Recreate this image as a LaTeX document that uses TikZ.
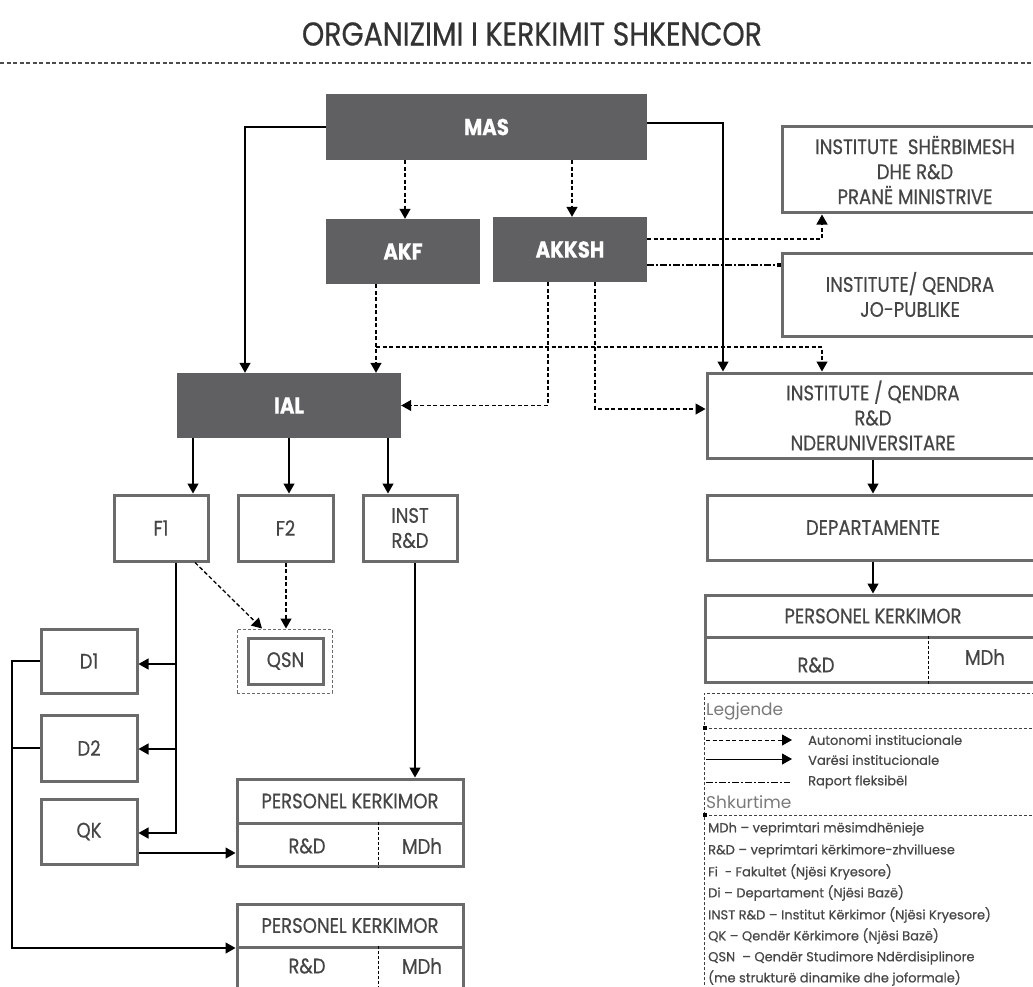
\documentclass[tikz,border=0pt]{standalone}
\usepackage{fontspec}
\setmainfont{Poppins}[FakeStretch=0.86, FakeBold=0.5]
\newfontfamily\legfont{Poppins}[FakeBold=0.6]
\newfontfamily\headfont{Poppins}
\usetikzlibrary{arrows.meta}
\definecolor{darkfill}{HTML}{606062}
\definecolor{boxline}{HTML}{6B6B6B}
\definecolor{txt}{HTML}{454545}
\definecolor{legtxt}{HTML}{474747}
\definecolor{leghead}{HTML}{7A7A7A}
\tikzset{
  wbox/.style={draw=boxline, line width=3pt, fill=white, text=txt,
    font=\fontsize{21}{25}\selectfont, align=center, inner sep=0pt},
  dbox/.style={fill=darkfill, text=white, font=\bfseries\fontsize{23}{25}\selectfont, inner sep=0pt},
  conn/.style={line width=1.3pt, black},
  tip/.style={-{Triangle[width=11pt,length=10pt]}},
  sarr/.style={conn, tip},
  darr/.style={conn, dash pattern=on 4pt off 2.5pt, tip},
  flexline/.style={conn, dash pattern=on 7pt off 2pt on 2pt off 2pt},
  divdash/.style={line width=1pt, black, dash pattern=on 3pt off 2pt},
  legdash/.style={line width=1pt, black!75, dash pattern=on 3pt off 2pt},
  pktext/.style={text=txt, font=\fontsize{21}{24}\selectfont, inner sep=0pt},
  legitem/.style={anchor=west, text=legtxt, font=\legfont\fontsize{13}{15}\selectfont, inner sep=0pt},
  leghd/.style={anchor=west, text=leghead, font=\headfont\fontsize{17}{19}\selectfont, inner sep=0pt},
}
\begin{document}
\begin{tikzpicture}[x=1pt,y=-1pt]
\useasboundingbox (0,0) rectangle (1033,987);
\clip (0,0) rectangle (1033,987);

% title
\node[text=black!80, font=\fontsize{33}{35}\selectfont, inner sep=0pt] (title) at (532,34) {ORGANIZIMI I KERKIMIT SHKENCOR};
\draw[line width=1.5pt, black!70, dash pattern=on 4pt off 2.5pt] (0,63) -- (1033,63);

% dark boxes
\node[dbox, minimum width=321pt, minimum height=66pt] (MAS) at (486.5,127) {MAS};
\node[dbox, minimum width=154pt, minimum height=65pt] (AKF) at (403,251.5) {AKF};
\node[dbox, minimum width=154pt, minimum height=65pt] (AKKSH) at (570,249.5) {AKKSH};
\node[dbox, minimum width=224pt, minimum height=65pt] (IAL) at (289,405.5) {IAL};

% right boxes
\node[wbox, minimum width=266pt, minimum height=86pt] (ISH) at (915,170) {INSTITUTE\ \ SHËRBIMESH\\DHE R\&D\\PRANË MINISTRIVE};
\node[wbox, minimum width=256pt, minimum height=83pt] (JOP) at (910,294.5) {INSTITUTE/ QENDRA\\JO-PUBLIKE};
\node[wbox, minimum width=332pt, minimum height=85pt] (NDER) at (873,415.5) {INSTITUTE / QENDRA\\R\&D\\NDERUNIVERSITARE};
\node[wbox, minimum width=332pt, minimum height=65pt] (DEP) at (873,527.5) {DEPARTAMENTE};

% left boxes
\node[wbox, minimum width=94pt, minimum height=66pt] (F1) at (161,528) {F1};
\node[wbox, minimum width=95pt, minimum height=66pt] (F2) at (285.5,528) {F2};
\node[wbox, minimum width=94pt, minimum height=66pt] (INST) at (410,528) {INST\\R\&D};
\node[wbox, minimum width=96pt, minimum height=64pt] (D1) at (89,661) {D1};
\node[wbox, minimum width=96pt, minimum height=66pt] (D2) at (89,748) {D2};
\node[wbox, minimum width=96pt, minimum height=65pt] (QK) at (89,831.5) {QK};
\node[draw=boxline, line width=1pt, dash pattern=on 3pt off 2pt, minimum width=95pt, minimum height=64pt, inner sep=0pt] (QSNo) at (284.5,661) {};
\node[wbox, minimum width=75pt, minimum height=46pt] (QSN) at (285.5,661) {QSN};

% personnel boxes
\node[wbox, minimum width=226pt, minimum height=44pt] (PK1) at (350,801) {PERSONEL KERKIMOR};
\node[wbox, minimum width=226pt, minimum height=43pt] (PK1b) at (350,844.5) {};
\node[pktext] (PK1r) at (307,846) {R\&D};
\node[pktext] (PK1m) at (422,846) {MDh};
\draw[divdash] (PK1b.north -| 378,0) -- (PK1b.south -| 378,0);

\node[wbox, minimum width=226pt, minimum height=43pt] (PK2) at (350,925.5) {PERSONEL KERKIMOR};
\node[wbox, minimum width=226pt, minimum height=66pt] (PK2b) at (350,980) {};
\node[pktext] (PK2r) at (307,966) {R\&D};
\node[pktext] (PK2m) at (422,966) {MDh};
\draw[divdash] (PK2b.north -| 378,0) -- (PK2b.south -| 378,0);

\node[wbox, minimum width=336pt, minimum height=42pt] (PK3) at (873,616) {PERSONEL KERKIMOR};
\node[wbox, minimum width=336pt, minimum height=45pt] (PK3b) at (873,659.5) {};
\node[pktext] (PK3r) at (816,665) {R\&D};
\node[pktext] (PK3m) at (985,657) {MDh};
\draw[divdash] (PK3b.north -| 928,0) -- (PK3b.south -| 928,0);

% connectors from MAS
\draw[darr] (MAS.south -| 405,0) -- (AKF.north -| 405,0);
\draw[darr] (MAS.south -| 572,0) -- (AKKSH.north -| 572,0);
\draw[sarr] (MAS.west) -| (IAL.north -| 245,0);
\draw[sarr] ([yshift=4pt]MAS.east) -| (NDER.north -| 723,0);

% AKF
\draw[darr] (AKF.south -| 376,0) -- (IAL.north -| 376,0);
\coordinate (akfbr) at (376,347);
\draw[darr] (akfbr) -| (NDER.north -| 822,0);

% AKKSH
\draw[darr] (AKKSH.south -| 548,0) |- (IAL.east);
\draw[darr] (AKKSH.south -| 595,0) |- (NDER.west |- 0,409);
\draw[darr] (AKKSH.east |- 0,239) -| (ISH.south -| 822,0);
\draw[flexline] (AKKSH.east |- 0,265) -- (JOP.west |- 0,265);
\fill (JOP.west |- 0,265) ++(-4,-2) rectangle ++(4,4);

% IAL
\draw[sarr] (IAL.south -| 193,0) -- (F1.north -| 193,0);
\draw[sarr] (IAL.south -| 289,0) -- (F2.north -| 289,0);
\draw[sarr] (IAL.south -| 388,0) -- (INST.north -| 388,0);

% right column
\draw[sarr] (NDER.south) -- (DEP.north);
\draw[sarr] (DEP.south) -- (PK3.north);

% INST -> PK1
\draw[sarr] (INST.south -| 415,0) -- (PK1.north -| 415,0);

% F1 trunk
\coordinate (t1) at (176,664);
\coordinate (t2) at (176,749);
\draw[sarr] (F1.south -| 176,0) |- (QK.east |- 0,833);
\draw[sarr] (t1) -- (D1.east |- t1);
\draw[sarr] (t2) -- (D2.east |- t2);

% QK -> PK1
\draw[sarr] (QK.east |- 0,853) -- (PK1b.west |- 0,853);

% D1, D2 -> PK2
\coordinate (lb) at (12,948);
\draw[sarr] (D1.west) -| (lb) -- (PK2b.west |- lb);
\draw[conn] (D2.west) -- (D2.west -| lb);

% QSN
\draw[darr] (F1.south -| 195,0) -- (QSNo.north -| 262,0);
\draw[darr] (F2.south -| 286,0) -- (QSNo.north -| 286,0);

% legend
\draw[legdash] (704,1000) -- (704,693) -- (1040,693);
\draw[legdash] (704,728) -- (1040,728);
\draw[legdash] (704,815) -- (1040,815);
\fill (703,726) rectangle ++(4,4);
\fill (703,813) rectangle ++(4,4);
\node[leghd] (lg) at (706,711) {Legjende};
\coordinate (l1a) at (706,740);
\coordinate (l1b) at (792,740);
\coordinate (l2a) at (706,759);
\coordinate (l2b) at (792,759);
\coordinate (l3a) at (706,782);
\coordinate (l3b) at (790,782);
\draw[darr, line width=1pt] (l1a) -- (l1b);
\draw[sarr, line width=1pt] (l2a) -- (l2b);
\draw[flexline, line width=1pt] (l3a) -- (l3b);
\node[legitem] (li1) at (808,740) {Autonomi institucionale};
\node[legitem] (li2) at (808,760) {Varësi institucionale};
\node[legitem] (li3) at (808,782) {Raport fleksibël};
\node[leghd] (sk) at (706,802) {Shkurtime};
\node[legitem] (a1) at (708,829) {MDh – veprimtari mësimdhënieje};
\node[legitem] (a2) at (708,851) {R\&D – veprimtari kërkimore-zhvilluese};
\node[legitem] (a3) at (708,872) {Fi\ \ - Fakultet (Njësi Kryesore)};
\node[legitem] (a4) at (708,893) {Di – Departament (Njësi Bazë)};
\node[legitem] (a5) at (708,915) {INST R\&D – Institut Kërkimor (Njësi Kryesore)};
\node[legitem] (a6) at (708,936) {QK – Qendër Kërkimore (Njësi Bazë)};
\node[legitem] (a7) at (708,958) {QSN\ \ – Qendër Studimore Ndërdisiplinore};
\node[legitem] (a8) at (708,978) {(me strukturë dinamike dhe joformale)};
\end{tikzpicture}
\end{document}
